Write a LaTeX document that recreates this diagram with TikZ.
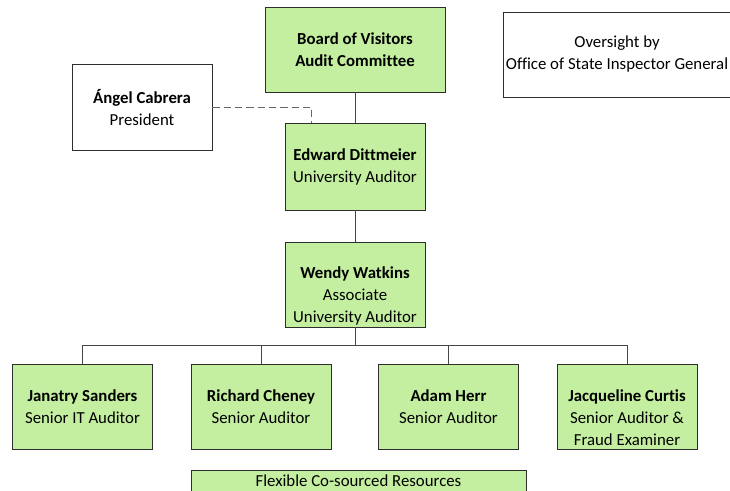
\documentclass[tikz,border=0pt]{standalone}
\usepackage{fontspec}
\setmainfont[Ligatures=CommonOff]{Carlito}
\usetikzlibrary{positioning}

\definecolor{boxgreen}{RGB}{196,239,160}
\definecolor{edgegray}{RGB}{45,45,45}
\definecolor{linegray}{RGB}{70,70,70}

% pushes a three-line text down so that its first two lines sit where two lines would
\newcommand{\lowstart}{\rule{0pt}{25.5pt}}

\begin{document}
\begin{tikzpicture}[
    x=0.75pt, y=-0.75pt,
    person/.style={draw=edgegray, fill=boxgreen, line width=0.6pt,
      align=center, inner sep=0pt, font=\fontsize{12.6}{16.5}\selectfont,
      minimum width=105pt, minimum height=64.5pt},
    plainbox/.style={person, fill=white},
    link/.style={draw=linegray, line width=0.6pt}
  ]
  \clip (0,0) rectangle (730,490);
  \fill[white] (0,0) rectangle (730,490);

  % top level
  \node[person, minimum width=135pt, minimum height=63.75pt] (board) at (355,49.5)
    {\textbf{Board of Visitors}\\\textbf{Audit Committee}};
  \node[plainbox] (angel) at (142,107) {\textbf{Ángel Cabrera}\\President};
  \node[plainbox, minimum width=171pt, minimum height=63.75pt] (osig) at (617,54.5)
    {Oversight by\\Office of State Inspector General};

  % audit office
  \node[person, minimum height=65.25pt] (edward) at (355,166.5)
    {\textbf{Edward Dittmeier}\\University Auditor};
  \node[person, minimum height=63.75pt] (wendy) at (355,284.5)
    {\lowstart\textbf{Wendy Watkins}\\Associate\\University Auditor};

  % staff
  \node[person, minimum height=63.75pt] (janatry) at (82.5,406.5)
    {\textbf{Janatry Sanders}\\Senior IT Auditor};
  \node[person, minimum height=63.75pt] (richard) at (261,406.5)
    {\textbf{Richard Cheney}\\Senior Auditor};
  \node[person, minimum height=63.75pt] (adam) at (448.5,406.5)
    {\textbf{Adam Herr}\\Senior Auditor};
  \node[person, minimum height=63.75pt] (jacq) at (627,406.5)
    {\lowstart\textbf{Jacqueline Curtis}\\Senior Auditor \&\\Fraud Examiner};
  \node[person, minimum width=251.25pt, minimum height=16.5pt] (flex) at (358.5,481)
    {Flexible Co-sourced Resources};

  % connectors
  \draw[link] (board) -- (edward);
  \draw[link] (edward) -- (wendy);
  \coordinate (bus) at (355,345);
  \draw[link] (wendy) -- (bus);
  \foreach \staff in {janatry,richard,adam,jacq}
    \draw[link] (bus) -| (\staff.north);
  \draw[link, draw=gray!80!black, dash pattern=on 5.5pt off 3pt]
    (angel.east) -| ([xshift=20.25pt]edward.north west);
\end{tikzpicture}
\end{document}
